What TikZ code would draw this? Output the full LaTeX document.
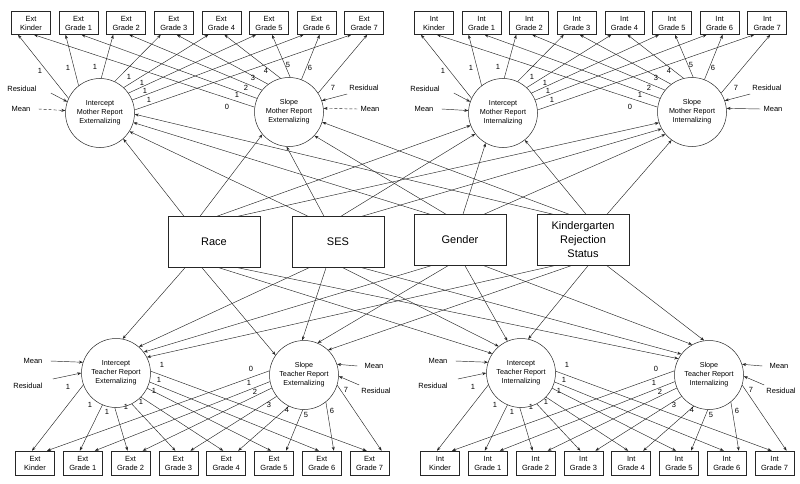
\documentclass[tikz,border=0pt]{standalone}
\usepackage{fontspec}
\setmainfont{Liberation Sans}
\usetikzlibrary{arrows.meta,calc}

\tikzset{
  obs/.style={shape=rectangle,draw=black!85,line width=0.5pt,minimum width=39pt,minimum height=23pt,inner sep=0pt,align=center,font=\fontsize{7.5}{9}\selectfont},
  lat/.style={shape=circle,draw=black!85,line width=0.5pt,minimum size=69pt,inner sep=0pt,align=center,font=\fontsize{7.2}{9}\selectfont},
  cov/.style={shape=rectangle,draw=black!85,line width=0.5pt,minimum width=92pt,minimum height=51pt,inner sep=0pt,align=center,font=\fontsize{11}{14}\selectfont},
  lbl/.style={font=\fontsize{7.5}{8}\selectfont,inner sep=0pt},
  arr/.style={draw=black!85,line width=0.45pt,-{Stealth[length=4pt,width=3pt]}},
}

\begin{document}
\begin{tikzpicture}[x=1pt,y=-1pt]
\useasboundingbox (0,0) rectangle (800,484);

% covariates
\node[cov] (race) at (214,242) {Race};
\node[cov] (ses) at (338,242) {SES};
\node[cov] (gender) at (460,240) {Gender};
\node[cov] (krs) at (583,240) {Kindergarten\\Rejection\\Status};

% mother report
\foreach \s/\tg/\kind/\dx/\mst in {E/Ext/Externalizing/0/densely dashed,I/Int/Internalizing/403/solid}{
  \node[lat] (mi\s) at (100+\dx,113) {Intercept\\Mother Report\\\kind};
  \node[lat] (ms\s) at (289+\dx,112) {Slope\\Mother Report\\\kind};
  \foreach \n/\g in {0/Kinder,1/Grade 1,2/Grade 2,3/Grade 3,4/Grade 4,5/Grade 5,6/Grade 6,7/Grade 7}
    \node[obs] (m\s\n) at (31+47.6*\n+\dx,23) {\tg\\\g};
  \foreach \n/\an in {0/155,1/128,2/88,3/65,4/47,5/35,6/22,7/5}
    \draw[arr] (mi\s.\an) -- ([xshift=-13pt]m\s\n.south);
  \foreach \n/\an in {0/172,1/157,2/141,3/127,4/104,5/88,6/69,7/33}
    \draw[arr] (ms\s.\an) -- ([xshift=3pt]m\s\n.south);
  \foreach \lx/\ly [count=\k] in {-60/-42,-32/-45,-5/-46,29/-36,42/-30,45/-22,49/-13}
    \node[lbl] (lmi\s\k) at ($(mi\s)+(\lx,\ly)$) {1};
  \foreach \lx/\ly [count=\k from 0] in {-62/-5,-52/-17,-43/-24,-36/-34,-23/-41,-1/-47,21/-44,44/-24}
    \node[lbl] (lms\s\k) at ($(ms\s)+(\lx,\ly)$) {\k};
  % residuals and means
  \node[lbl] (rmi\s) at ($(mi\s)+(-78,-24)$) {Residual};
  \node[lbl] (mmi\s) at ($(mi\s)+(-79,-4)$) {Mean};
  \node[lbl] (rms\s) at ($(ms\s)+(75,-24)$) {Residual};
  \node[lbl] (mms\s) at ($(ms\s)+(81,-3)$) {Mean};
  \draw[arr] ([shift={(14,4)}]rmi\s.east) -- (mi\s.161);
  \draw[arr,\mst] ([xshift=8pt]mmi\s.east) -- (mi\s.176);
  \draw[arr] ([shift={(-2,6)}]rms\s.west) -- (ms\s.19);
  \draw[arr,\mst] ([xshift=-3pt]mms\s.west) -- (ms\s.6);
}

% teacher report
\foreach \s/\tg/\kind/\dx in {E/Ext/Externalizing/0,I/Int/Internalizing/405}{
  \node[lat] (ti\s) at (116+\dx,373) {Intercept\\Teacher Report\\\kind};
  \node[lat] (ts\s) at (304+\dx,375) {Slope\\Teacher Report\\\kind};
  \foreach \n/\g in {0/Kinder,1/Grade 1,2/Grade 2,3/Grade 3,4/Grade 4,5/Grade 5,6/Grade 6,7/Grade 7}
    \node[obs,minimum height=24pt] (t\s\n) at (35+47.8*\n+\dx,463) {\tg\\\g};
  \foreach \n/\an in {0/200,1/247,2/268,3/297,4/316,5/334,6/345,7/3}
    \draw[arr] (ti\s.\an) -- ([xshift=-3pt]t\s\n.north);
  \foreach \n/\an in {0/173,1/191,2/202,3/218,4/244,5/268,6/309,7/343}
    \draw[arr] (ts\s.\an) -- ([xshift=12pt]t\s\n.north);
  \foreach \lx/\ly [count=\k] in {-48/14,-26/32,-9/39,10/34,25/29,38/18,43/7,46/-8}
    \node[lbl] (lti\s\k) at ($(ti\s)+(\lx,\ly)$) {1};
  \foreach \lx/\ly [count=\k from 0] in {-53/-6,-55/8,-49/17,-35/30,-17/35,2/40,28/36,42/15}
    \node[lbl] (lts\s\k) at ($(ts\s)+(\lx,\ly)$) {\k};
  % residuals and means
  \node[lbl] (mti\s) at ($(ti\s)+(-83,-12)$) {Mean};
  \node[lbl] (rti\s) at ($(ti\s)+(-88,13)$) {Residual};
  \node[lbl] (mts\s) at ($(ts\s)+(70,-9)$) {Mean};
  \node[lbl] (rts\s) at ($(ts\s)+(72,16)$) {Residual};
  \draw[arr] ([xshift=8pt]mti\s.east) -- (ti\s.162);
  \draw[arr] ([shift={(10,-7)}]rti\s.east) -- (ti\s.180);
  \draw[arr] ([xshift=-7pt]mts\s.west) -- (ts\s.18);
  \draw[arr] ([shift={(-2,-6)}]rts\s.west) -- (ts\s.358);
}

% covariate paths
\foreach \cv/\pa/\pb/\pc/\pd in {race/312/220/201/198,ses/328/266/217/209,gender/344/317/240/220,krs/358/343/309/234}{
  \draw[arr] ([xshift=-30pt]\cv.north) -- (miE.\pa);
  \draw[arr] ([xshift=-14pt]\cv.north) -- (msE.\pb);
  \draw[arr] ([xshift=3pt]\cv.north) -- (miI.\pc);
  \draw[arr] ([xshift=24pt]\cv.north) -- (msI.\pd);
}
\foreach \cv/\pa/\pb/\pc/\pd in {race/79/145/146/152,ses/49/93/130/143,gender/37/67/113/119,krs/27/46/78/98}{
  \draw[arr] ([xshift=-29pt]\cv.south) -- (tiE.\pa);
  \draw[arr] ([xshift=-12pt]\cv.south) -- (tsE.\pb);
  \draw[arr] ([xshift=5pt]\cv.south) -- (tiI.\pc);
  \draw[arr] ([xshift=24pt]\cv.south) -- (tsI.\pd);
}
\end{tikzpicture}
\end{document}
